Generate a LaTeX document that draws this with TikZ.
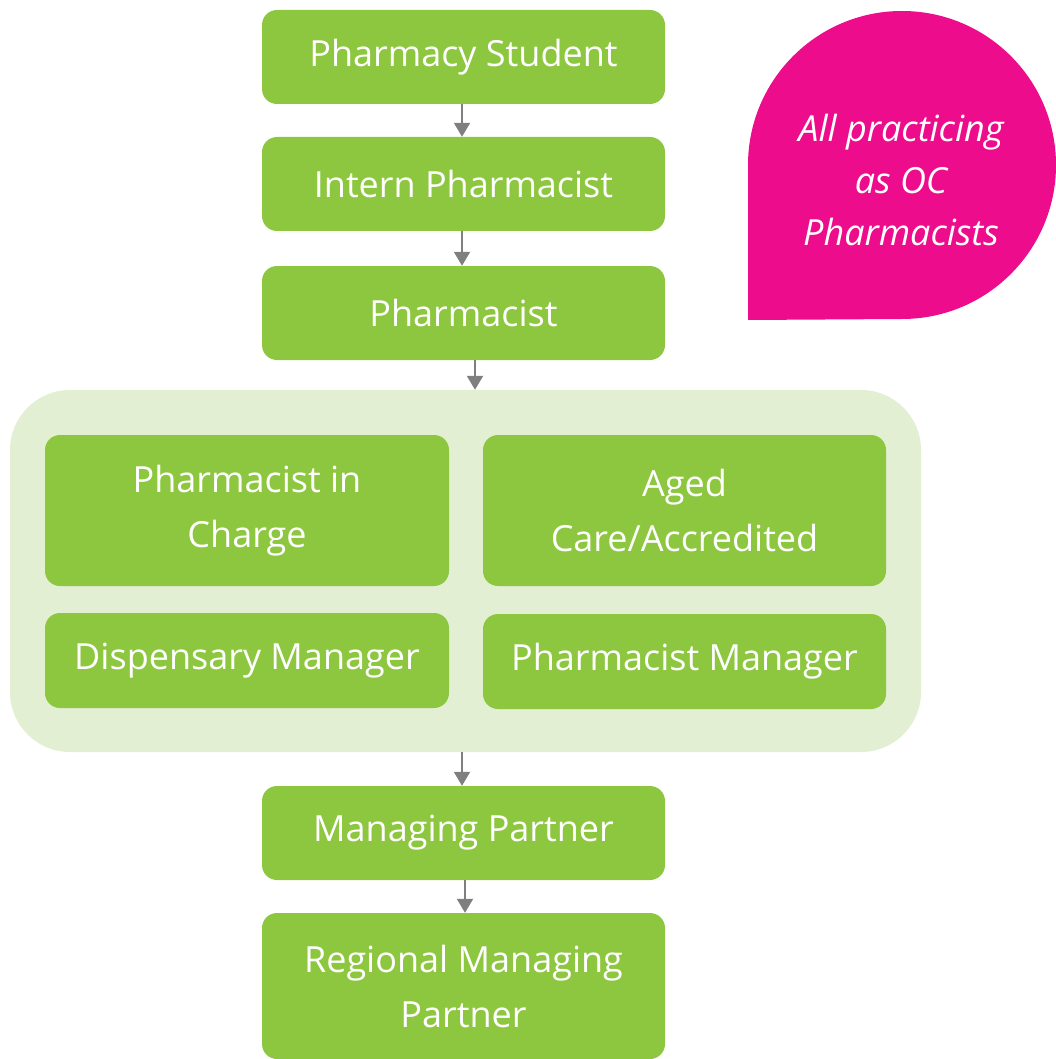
\documentclass[tikz,border=0pt]{standalone}
\usepackage{fontspec}
\setmainfont{Open Sans}
\usetikzlibrary{arrows.meta}
\definecolor{boxgreen}{HTML}{8DC63F}
\definecolor{grpgreen}{HTML}{E2EFD3}
\definecolor{notepink}{HTML}{EC0C8C}
\definecolor{arrgray}{HTML}{7F7F7F}
\tikzset{
  stagebox/.style={fill=boxgreen, rounded corners=15pt, text=white, align=center,
    inner sep=0pt, font=\fontsize{36}{55}\selectfont, minimum width=403pt},
  groupbox/.style={fill=grpgreen, rounded corners=60pt, inner sep=0pt,
    minimum width=911pt, minimum height=362pt},
  arr/.style={draw=arrgray, line width=2pt, -{Triangle[width=16pt,length=14pt]}},
  notetext/.style={text=white, align=center, font=\fontsize{36}{52}\selectfont\itshape}
}
\begin{document}
\begin{tikzpicture}[x=1pt,y=-1pt]
\useasboundingbox (0,0) rectangle (1056,1059);
% pink note
\fill[notepink] (748,320) -- (748,165) arc[start angle=180, end angle=450, radius=154] -- cycle;
\node[notetext] (note) at (901,180) {All practicing\\as OC\\Pharmacists};
% group
\node[groupbox] (grp) at (465.5,571) {};
% main chain
\node[stagebox, minimum height=94pt] (ps) at (463.5,57) {Pharmacy Student};
\node[stagebox, minimum height=94pt] (ip) at (463.5,184) {Intern Pharmacist};
\node[stagebox, minimum height=94pt] (ph) at (463.5,313) {Pharmacist};
\node[stagebox, minimum height=151pt, minimum width=404pt] (pic) at (247,510.5) {Pharmacist in\\Charge};
\node[stagebox, minimum height=151pt] (acc) at (684.5,510.5) {Aged\\Care/Accredited};
\node[stagebox, minimum height=95pt, minimum width=404pt] (dm) at (247,660.5) {Dispensary Manager};
\node[stagebox, minimum height=95pt] (pm) at (684.5,661.5) {Pharmacist Manager};
\node[stagebox, minimum height=94pt] (mp) at (463.5,833) {Managing Partner};
\node[stagebox, minimum height=146pt] (rmp) at (463.5,986) {Regional Managing\\Partner};
% connectors
\draw[arr] ([xshift=-1.5pt]ps.south) -- ([xshift=-1.5pt]ip.north);
\draw[arr] ([xshift=-1.5pt]ip.south) -- ([xshift=-1.5pt]ph.north);
\draw[arr] ([xshift=11.5pt]ph.south) -- ([xshift=11.5pt]ph.south |- grp.north);
\draw[arr] ([xshift=-3.5pt]grp.south) -- ([xshift=-3.5pt]grp.south |- mp.north);
\draw[arr] ([xshift=1.5pt]mp.south) -- ([xshift=1.5pt]rmp.north);
\end{tikzpicture}
\end{document}
